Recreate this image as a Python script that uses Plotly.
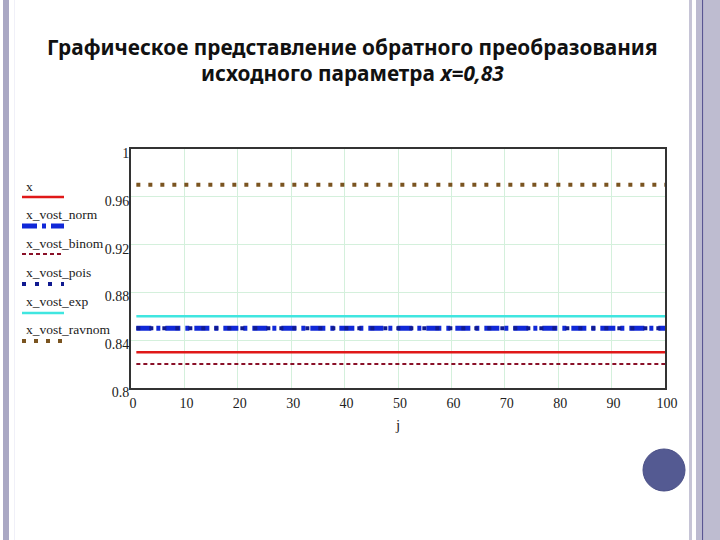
import plotly.graph_objects as go

# ---- data ----
j = [1, 100]
x_true = [0.83, 0.83]
x_vost_norm = [0.85, 0.85]
x_vost_binom = [0.82, 0.82]
x_vost_pois = [0.85, 0.85]
x_vost_exp = [0.86, 0.86]
x_vost_ravnom = [0.97, 0.97]

x_ticks = [0, 10, 20, 30, 40, 50, 60, 70, 80, 90, 100]
y_ticks = [0.8, 0.84, 0.88, 0.92, 0.96, 1.0]
y_tick_labels = ["0.8", "0.84", "0.88", "0.92", "0.96", "1"]

legend_names = ["x", "x_vost_norm", "x_vost_binom", "x_vost_pois", "x_vost_exp", "x_vost_ravnom"]

# ---- styles ----
styles = {
    "x": dict(color="#e01818", width=2.5, dash="solid"),
    "x_vost_norm": dict(color="#1028d8", width=5, dash="15px,5px,4px,5px"),
    "x_vost_binom": dict(color="#8a1028", width=2, dash="4px,3px"),
    "x_vost_pois": dict(color="#101a90", width=4, dash="4px,9px"),
    "x_vost_exp": dict(color="#40e6e0", width=2.5, dash="solid"),
    "x_vost_ravnom": dict(color="#7a5420", width=4, dash="4px,8px"),
}
series = {
    "x": x_true,
    "x_vost_norm": x_vost_norm,
    "x_vost_binom": x_vost_binom,
    "x_vost_pois": x_vost_pois,
    "x_vost_exp": x_vost_exp,
    "x_vost_ravnom": x_vost_ravnom,
}

fig = go.Figure()
for name in legend_names:
    fig.add_trace(go.Scatter(x=j, y=series[name], mode="lines", name=name,
                             line=styles[name], showlegend=False))

# plot area in pixels
L, R, T, B = 131, 665, 149, 388
W, H = 720, 540


def px(v):
    return (v - L) / (R - L)


def py(v):
    return (B - v) / (B - T)


shapes = []
annotations = []

# custom Mathcad-style legend (text above line sample)
leg_text_y = [186, 214, 243, 272, 301, 329]
leg_line_y = [197, 226, 254, 284, 313, 341]
for name, ty, ly in zip(legend_names, leg_text_y, leg_line_y):
    annotations.append(dict(x=px(24), y=py(ty), xref="paper", yref="paper",
                            text=name, showarrow=False, xanchor="left", yanchor="middle",
                            font=dict(family="Liberation Serif", size=13.5, color="#1a1a1a")))
    st = styles[name]
    shapes.append(dict(type="line", xref="paper", yref="paper",
                       x0=px(22), x1=px(64), y0=py(ly), y1=py(ly),
                       line=dict(color=st["color"], width=st["width"], dash=st["dash"])))

# slide decorations
def rect(x0, x1, y0, y1, color):
    shapes.append(dict(type="rect", xref="paper", yref="paper",
                       x0=px(x0), x1=px(x1), y0=py(y0), y1=py(y1),
                       line=dict(width=0), fillcolor=color, layer="below"))

rect(3, 9, 0, 540, "#aaa8c4")
rect(14, 15, 0, 540, "#f0f0f8")
rect(689, 692, 0, 540, "#c6c4d6")
rect(696, 702, 0, 540, "#bcbad0")
rect(702, 703.5, 0, 540, "#5a5692")
rect(703.5, 720, 0, 540, "#bebcd0")
shapes.append(dict(type="circle", xref="paper", yref="paper",
                   x0=px(643), x1=px(685), y0=py(449), y1=py(491),
                   line=dict(color="#4a4f86", width=1), fillcolor="#545a92"))

# title
annotations.append(dict(x=px(352), y=py(47), xref="paper", yref="paper",
                        text="<b>Графическое представление обратного преобразования</b>",
                        showarrow=False, xanchor="center", yanchor="middle",
                        font=dict(family="Noto Sans", size=20.8, color="#111111")))
annotations.append(dict(x=px(352), y=py(73), xref="paper", yref="paper",
                        text="<b>исходного параметра <i>x=0,83</i></b>",
                        showarrow=False, xanchor="center", yanchor="middle",
                        font=dict(family="Noto Sans", size=20.8, color="#111111")))

grid_c = "#d4f0dc"
fig.update_layout(
    width=W, height=H,
    margin=dict(l=L, r=W - R, t=T, b=H - B, pad=0),
    paper_bgcolor="white", plot_bgcolor="white",
    shapes=shapes, annotations=annotations,
    xaxis=dict(range=[0, 100], tickvals=x_ticks, showgrid=True, gridcolor=grid_c, gridwidth=1,
               zeroline=False, showline=True, linecolor="#333333", linewidth=2, mirror=True,
               ticks="outside", ticklen=0, ticklabelstandoff=1, ticklabelshift=2,
               tickfont=dict(family="Liberation Serif", size=14, color="#222222"),
               title=dict(text="j", standoff=10,
                          font=dict(family="Liberation Serif", size=15, color="#222222"))),
    yaxis=dict(range=[0.8, 1.0], tickvals=y_ticks, ticktext=y_tick_labels, showgrid=True,
               gridcolor=grid_c, gridwidth=1, zeroline=False, showline=True,
               linecolor="#333333", linewidth=2, mirror=True,
               ticks="outside", ticklen=0, ticklabelstandoff=-3, ticklabelshift=4,
               tickfont=dict(family="Liberation Serif", size=14, color="#222222")),
)

fig.write_html("out.html", config={"displayModeBar": False},
               post_script="document.body.style.margin='0';document.body.style.overflow='hidden';")
